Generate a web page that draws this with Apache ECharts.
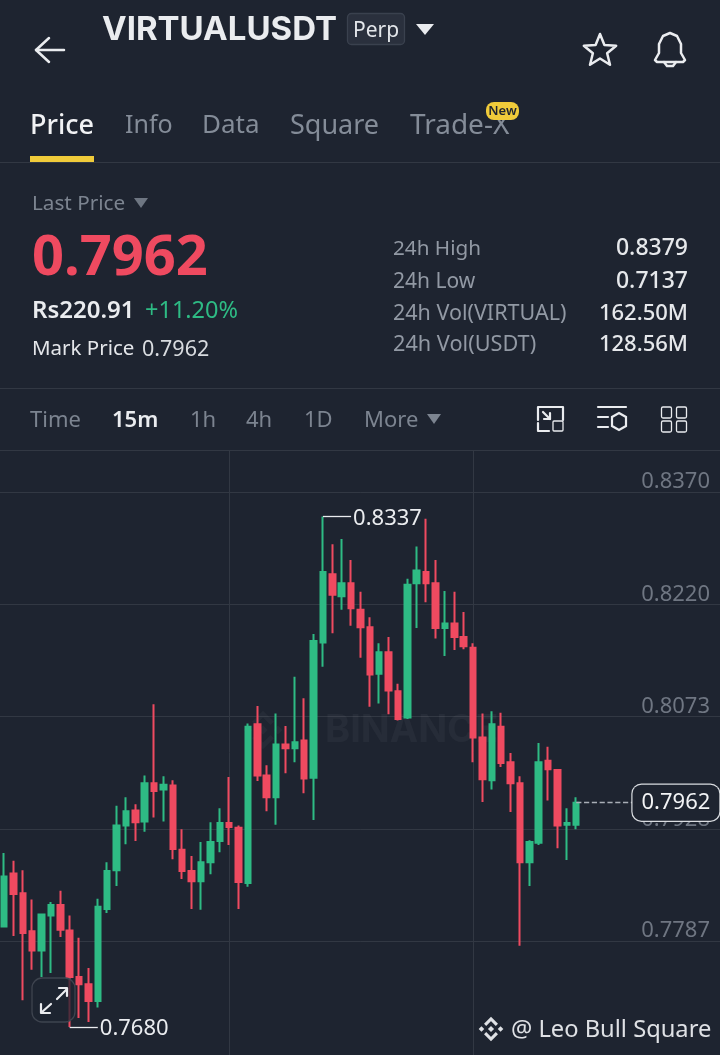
<!DOCTYPE html>
<html><head><meta charset="utf-8">
<style>html,body{margin:0;padding:0;background:#1e2430}#c{width:720px;height:1055px}</style>
<script src="https://cdn.jsdelivr.net/npm/echarts@6/dist/echarts.min.js"></script>
</head><body><div id="c"></div>
<script>
const opens  = [.7805,.7872,.7847,.7799,.7775,.7819,.7832,.7800,.7742,.7733,.7712,.7827,.7876,.7933,.7952,.7938,.7987,.7979,.7984,.7902,.7875,.7862,.7886,.7913,.7936,.7930,.7860,.8063,.7997,.7969,.8037,.8032,.8042,.7994,.8170,.8260,.8231,.8248,.8213,.8190,.8129,.8157,.8106,.8072,.8248,.8263,.8248,.8189,.8195,.8177,.8163,.8046,.7991,.8060,.8014,.7987,.7886,.7911,.8016,.8004,.7934,.7934];
const closes = [.7868,.7846,.7797,.7775,.7820,.7832,.7801,.7742,.7733,.7712,.7830,.7875,.7933,.7951,.7937,.7987,.7977,.7985,.7903,.7875,.7862,.7886,.7912,.7936,.7931,.7861,.8060,.7997,.7969,.8037,.8032,.8040,.7993,.8172,.8263,.8233,.8248,.8215,.8190,.8128,.8157,.8107,.8070,.8246,.8265,.8248,.8189,.8195,.8177,.8165,.8046,.7992,.8063,.8013,.7987,.7886,.7912,.8014,.8005,.7933,.7936,.7962];
const lows   = [.7805,.7793,.7713,.7751,.7742,.7747,.7792,.7680,.7691,.7686,.7704,.7822,.7856,.7909,.7913,.7925,.7943,.7938,.7890,.7865,.7827,.7826,.7871,.7899,.7908,.7827,.7855,.7990,.7951,.7934,.8000,.8014,.7974,.7940,.8138,.8182,.8213,.8192,.8150,.8086,.8090,.8076,.8068,.8070,.8189,.8223,.8175,.8152,.8160,.8161,.8014,.7963,.7979,.8008,.7950,.7781,.7856,.7908,.7965,.7904,.7889,.7928];
const highs  = [.7898,.7888,.7876,.7839,.7821,.7836,.7850,.7819,.7791,.7753,.7840,.7886,.7958,.7969,.7960,.7997,.8089,.7996,.7991,.7928,.7894,.7912,.7937,.7955,.7995,.7933,.8064,.8087,.8010,.8077,.8061,.8125,.8097,.8181,.8337,.8300,.8307,.8279,.8237,.8203,.8169,.8177,.8116,.8254,.8297,.8334,.8279,.8238,.8237,.8210,.8169,.8077,.8080,.8078,.8026,.7996,.7914,.8039,.8034,.8005,.7955,.7969];
const priceTicks = [.7787,.7928,.8073,.8220,.8370];
const categories = Array.from({length:77},(_,i)=>String(i));
const verticalGrid = [24,50];
const maxMark = {index:34,end:37,value:.8337};
const minMark = {index:7,end:10,value:.7680};
const lastPrice = {index:61,end:67,value:.7962};

const candles = opens.map((o,i)=>[o,closes[i],lows[i],highs[i]]);
const BG='#1e2430', GRID='#323843', UP='#2EBB84', DOWN='#EF4A60', GREY='#848C98', WHITE='#EAECEF', YEL='#F0CB3A';
const FF='"Noto Sans",sans-serif';
const chart = echarts.init(document.getElementById('c'),null,{width:720,height:1055});

const T=(text,x,y,size,fill,weight,align,family)=>({type:'text',z:50,silent:true,style:{text,x,y:y+(family?0:size*0.08),fill,
  font:`${weight||400} ${size}px ${family||FF}`,textAlign:align||'left',textVerticalAlign:'middle'}});
const R=(x,y,w,h,fill,r,stroke)=>({type:'rect',z:50,silent:true,shape:{x,y,width:w,height:h,r:r||0},style:{fill:fill||'none',stroke:stroke||null,lineWidth:stroke?1.3:0}});
const TRI=(x1,x2,y1,y2,fill)=>({type:'polygon',z:50,silent:true,shape:{points:[[x1,y1],[x2,y1],[(x1+x2)/2,y2]]},style:{fill}});
const P=(pts,stroke,w,smooth)=>({type:'polyline',z:50,silent:true,shape:{points:pts,smooth:smooth||0},style:{stroke:stroke||WHITE,lineWidth:w||2.5,fill:'none',lineJoin:'round',lineCap:'round'}});
const diamond=(cx,cy,s,fill,z)=>{
  const d=(x,y,r)=>({type:'polygon',z,silent:true,shape:{points:[[x,y-r],[x+r,y],[x,y+r],[x-r,y]]},style:{fill}});
  return [d(cx,cy,s*.22),d(cx-s*.68,cy,s*.2),d(cx+s*.68,cy,s*.2),
    {type:'polyline',z,silent:true,shape:{points:[[cx-s*.42,cy-s*.3],[cx,cy-s*.72],[cx+s*.42,cy-s*.3]]},style:{stroke:fill,lineWidth:s*.22,fill:'none'}},
    {type:'polyline',z,silent:true,shape:{points:[[cx-s*.42,cy+s*.3],[cx,cy+s*.72],[cx+s*.42,cy+s*.3]]},style:{stroke:fill,lineWidth:s*.22,fill:'none'}}];
};
const star=[];for(let i=0;i<10;i++){const a=-Math.PI/2+i*Math.PI/5,r=i%2?7.5:17;star.push([600+r*Math.cos(a),51+r*Math.sin(a)]);}

const graphics=[
  T('VIRTUALUSDT',102,30,33,'#EAECEF',700,'left','Inter,sans-serif'),
  R(347.5,13.5,57,31,'#2a303d',4,'#3a414e'),
  T('Perp',376,29,21,'#E3E6EA',400,'center'),
  TRI(416,434,24,35,'#EAECEF'),
  P([[64,50],[36,50]]),P([[49,38],[36,50],[49,62]]),
  {type:'polygon',z:50,silent:true,shape:{points:star},style:{stroke:WHITE,lineWidth:2.5,fill:'none',lineJoin:'round'}},
  P([[657,62],[655,60],[659,53],[659,44],[663,36],[670,33],[677,36],[681,44],[681,53],[685,60],[683,62],[657,62]],WHITE,2.5),
  P([[664,62],[667,66],[673,66],[676,62]],WHITE,2.5),
  T('Price',30,124,27,'#F1F2F4',500),T('Info',125,124,25,GREY),T('Data',202,124,26,GREY),T('Square',290,124,27,GREY),T('Trade-X',410,124,28,GREY),
  R(486,102,33,18,YEL,8),T('New',502.5,110,13,'#1e2430',600,'center'),
  R(30,156,64,6,YEL),R(0,162,720,1,GRID),
  T('Last Price',32,202,20.7,'#7C8490'),TRI(134,148,198,208,'#6E7682'),
  T('0.7962',32,255,56,DOWN,700),
  T('Rs220.91',32,309,24,'#EAECEF',600),T('+11.20%',145,309,23.5,UP),
  T('Mark Price',32,348,20.5,'#E4E6EA'),T('0.7962',142,348,21.5,'#D8DBDF'),
  T('24h High',393,247,20.7,'#9299A4'),T('24h Low',393,280,21,'#9299A4'),T('24h Vol(VIRTUAL)',393,312,21.5,'#9299A4'),T('24h Vol(USDT)',393,343,21.7,'#9299A4'),
  T('0.8379',688,247,23,'#E6E8EB',500,'right'),T('0.7137',688,280,23,'#E6E8EB',500,'right'),T('162.50M',688,312,22,'#E6E8EB',500,'right'),T('128.56M',688,343,22,'#E6E8EB',500,'right'),
  R(0,388,720,1,GRID),
  T('Time',30,419,22,'#7C8490'),T('15m',112,419,22,'#EAECEF',600),T('1h',190,419,22,'#7C8490'),T('4h',246,419,22,'#7C8490'),T('1D',304,419,22,'#7C8490'),T('More',364,419,22,'#7C8490'),TRI(427,441,414,424,'#7C8490'),
  P([[538,420],[538,407],[563,407],[563,420]],WHITE,2.2),P([[538,423],[538,431],[549,431]],WHITE,2.2),R(553,421,10,10,null,1,WHITE),P([[543,412],[550,419]],WHITE,2.2),P([[550,413],[550,419],[544,419]],WHITE,2.2),
  P([[598,407],[626,407]],WHITE,2.2),P([[598,417],[608,417]],WHITE,2.2),P([[598,427],[608,427]],WHITE,2.2),
  {type:'polygon',z:50,silent:true,shape:{points:[[619,413],[626,417],[626,426],[619,430],[612,426],[612,417]]},style:{stroke:WHITE,lineWidth:2.2,fill:'none'}},
  R(661.5,407,10,11,null,1.5,WHITE),R(676.5,407,10,11,null,1.5,WHITE),R(661.5,421,10,11,null,1.5,WHITE),R(676.5,421,10,11,null,1.5,WHITE),
  R(0,450,720,1,GRID),
  ...diamond(263,730,22,'rgba(255,255,255,0.035)',1),
  {type:'text',z:1,silent:true,style:{text:'BINANCE',x:325,y:731,fill:'rgba(255,255,255,0.04)',font:'700 38px Inter,sans-serif',textVerticalAlign:'middle'}},
  {type:'rect',z:50,silent:true,shape:{x:32,y:978,width:43,height:44,r:10},style:{fill:'rgba(30,36,48,0.75)',stroke:'#3e444f',lineWidth:1.3}},
  P([[57,999],[67,989]],'#EAECEF',2.2),P([[59,988],[67,988],[67,996]],'#EAECEF',2.2),
  P([[51,1004],[42,1012]],'#EAECEF',2.2),P([[41,1004],[41,1013],[50,1013]],'#EAECEF',2.2),
  ...diamond(491,1029,14,'#DFE1E5',50),
  T('@ Leo Bull Square',511,1028,23.7,'#DFE1E5',400)
];

chart.setOption({
  animation:false,
  backgroundColor:BG,
  grid:{left:-0.69,width:722.3,top:450,height:605,containLabel:false,outerBoundsMode:'none'},
  xAxis:{type:'category',data:categories,boundaryGap:true,
    axisLine:{show:false},axisTick:{show:false},axisLabel:{show:false},splitLine:{show:false}},
  yAxis:{type:'log',logBase:10,min:.76454,max:.84268,position:'right',scale:true,
    axisLine:{show:false},
    axisTick:{show:false,customValues:priceTicks},
    splitLine:{show:true,lineStyle:{color:GRID,width:1}},
    axisLabel:{show:true,inside:true,customValues:priceTicks,margin:11.6,color:'#6F7682',fontSize:22,fontFamily:FF,
      verticalAlign:'bottom',align:'right',lineHeight:20,formatter:v=>Number(v).toFixed(4)}},
  graphic:{elements:graphics},
  series:[{
    type:'candlestick',data:candles,barWidth:6,z:3,
    itemStyle:{color:UP,color0:DOWN,borderColor:UP,borderColor0:DOWN,borderWidth:2,opacity:1},
    markLine:{silent:true,symbol:'none',z:1,animation:false,
      lineStyle:{color:GRID,width:1,type:'solid'},label:{show:false},
      data:verticalGrid.map(x=>({xAxis:x}))}
  },{
    type:'line',data:[],z:6,silent:true,
    markLine:{silent:true,symbol:'none',z:20,animation:false,data:[
      [{coord:[maxMark.index,maxMark.value],lineStyle:{color:'#EAECEF',width:1.3,type:'solid'},
        label:{show:true,position:'end',distance:2,offset:[0,2],color:'#EAECEF',fontSize:22,fontFamily:FF,formatter:maxMark.value.toFixed(4)}},
       {coord:[maxMark.end,maxMark.value]}],
      [{coord:[minMark.index,minMark.value],lineStyle:{color:'#EAECEF',width:1.3,type:'solid'},
        label:{show:true,position:'end',distance:2,offset:[0,2],color:'#EAECEF',fontSize:22,fontFamily:FF,formatter:minMark.value.toFixed(4)}},
       {coord:[minMark.end,minMark.value]}],
      [{coord:[lastPrice.index,lastPrice.value],lineStyle:{color:'#A9AEB6',width:1.3,type:'dashed'},
        label:{show:true,position:'end',distance:0,color:'#F2F3F5',fontSize:22,fontFamily:FF,formatter:lastPrice.value.toFixed(4),
          backgroundColor:BG,borderColor:'#D9DCE0',borderWidth:1.2,borderRadius:9,padding:[8,9,6,9]}},
       {coord:[lastPrice.end,lastPrice.value]}]
    ]}
  }]
});
</script></body></html>
